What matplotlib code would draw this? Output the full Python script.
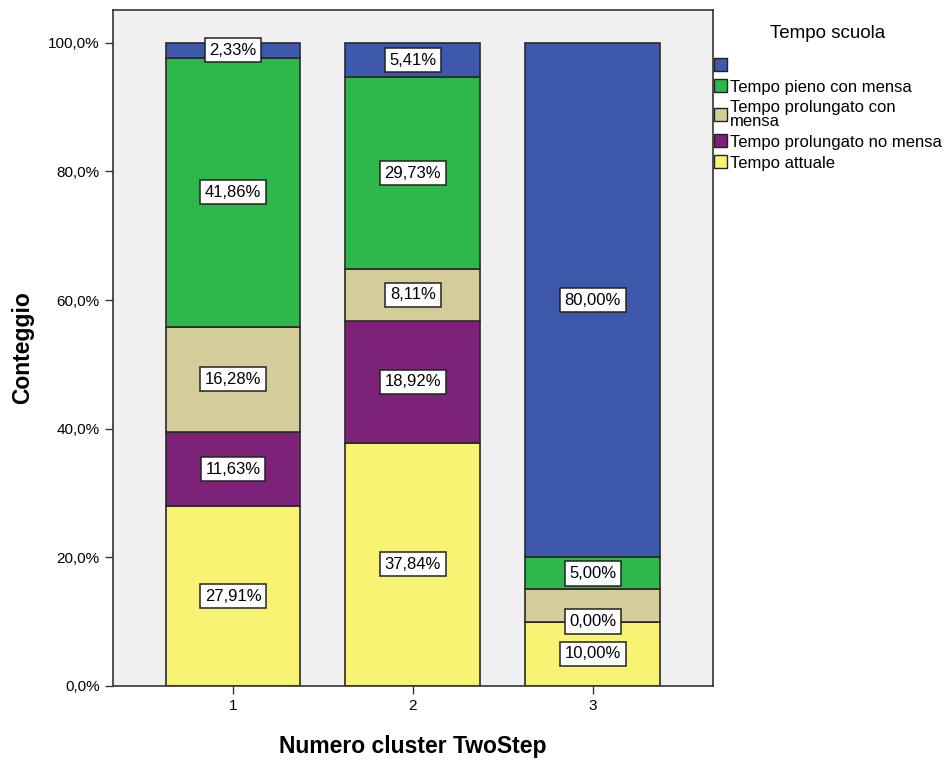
import numpy as np
import matplotlib.pyplot as plt
from matplotlib.patches import Patch

plt.rcParams['font.family'] = ['Liberation Sans', 'DejaVu Sans']

clusters = ['1', '2', '3']
# stacked from bottom to top
series = ['Tempo attuale', 'Tempo prolungato no mensa',
          'Tempo prolungato con\nmensa', 'Tempo pieno con mensa', '']
values = [
    [27.91, 37.84, 10.00],
    [11.63, 18.92, 0.00],
    [16.28, 8.11, 5.00],
    [41.86, 29.73, 5.00],
    [2.33, 5.41, 80.00],
]
colors = ['#f9f373', '#7d2279', '#d5cd99', '#2eb84b', '#3e58ac']
# the tan segment of cluster 3 has no label in the original
show_label = [
    [True, True, True],
    [True, True, True],
    [True, True, False],
    [True, True, True],
    [True, True, True],
]
yticks = [0, 20, 40, 60, 80, 100]

fig = plt.figure(figsize=(9.46, 7.6), dpi=100)
ax = fig.add_axes([0.1195, 0.0974, 0.634, 0.8896])
ax.set_facecolor('#f0f0f0')

x = np.arange(1, len(clusters) + 1)
bottom = np.zeros(len(clusters))
for i, (name, vals) in enumerate(zip(series, values)):
    vals = np.array(vals)
    ax.bar(x, vals, width=0.75, bottom=bottom, color=colors[i],
           edgecolor='#2a2a2a', linewidth=1.2, zorder=2)
    for j in range(len(clusters)):
        if not show_label[i][j]:
            continue
        ypos = bottom[j] + vals[j] / 2
        ax.text(x[j], ypos, f'{vals[j]:.2f}%'.replace('.', ','),
                ha='center', va='center', fontsize=12, zorder=4,
                bbox=dict(boxstyle='square,pad=0.28', fc='white',
                          ec='#222222', lw=1.1))
    bottom += vals

ax.set_xlim(0.333, 3.667)
ax.set_ylim(0, 105.1)
ax.set_xticks(x)
ax.set_xticklabels(clusters, fontsize=11)
ax.set_yticks(yticks)
ax.set_yticklabels([f'{t:.1f}%'.replace('.', ',') for t in yticks], fontsize=11)
ax.tick_params(length=6, width=1, color='#333333')
for s in ax.spines.values():
    s.set_color('#333333')
    s.set_linewidth(1.2)

ax.set_ylabel('Conteggio', fontsize=16.5, fontweight='bold', labelpad=10)
ax.set_xlabel('Numero cluster TwoStep', fontsize=16.5, fontweight='bold', labelpad=16)

handles = [Patch(facecolor=colors[i], edgecolor='#222222', label=series[i])
           for i in range(len(series) - 1, -1, -1)]
leg = ax.legend(handles=handles, loc='upper left', bbox_to_anchor=(1.002, 0.978),
                frameon=False, title='Tempo scuola', title_fontsize=13.5,
                fontsize=12, handlelength=0.8, handleheight=0.8,
                handletextpad=0.15, labelspacing=0.35, borderaxespad=0,
                borderpad=0)
for t in leg.get_texts():
    t.set_linespacing(0.85)
leg._legend_box.sep = 12

fig.savefig('out.png', dpi=100)
